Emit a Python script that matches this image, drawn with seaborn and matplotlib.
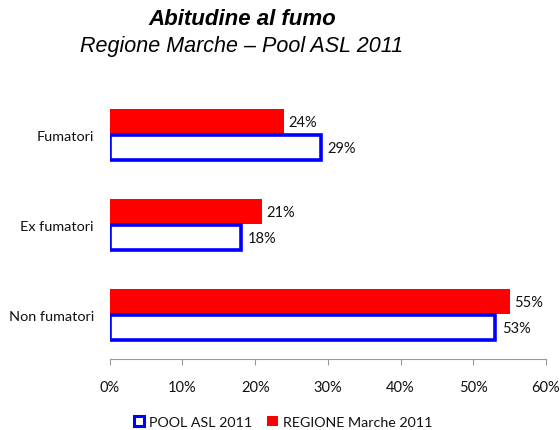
import pandas as pd
import numpy as np
import matplotlib.pyplot as plt
import seaborn as sns
from matplotlib.patches import Patch
from matplotlib.ticker import FuncFormatter

# data
categorie = ['Fumatori', 'Ex fumatori', 'Non fumatori']
regione = [24, 21, 55]
pool = [29, 18, 53]
serie = ['REGIONE Marche 2011', 'POOL ASL 2011']

df = pd.DataFrame({
    'categoria': categorie * 2,
    'valore': regione + pool,
    'serie': [serie[0]] * 3 + [serie[1]] * 3,
})

sns.set_style('white')
plt.rcParams['font.family'] = ['Lato', 'DejaVu Sans']
plt.rcParams['text.color'] = '#111111'

fig = plt.figure(figsize=(5.6, 4.31), dpi=100)
ax = fig.add_axes([0.196, 0.165, 0.779, 0.624])

sns.barplot(data=df, y='categoria', x='valore', hue='serie', hue_order=serie,
            order=categorie, palette=['#ff0000', '#0000ff'], saturation=1,
            orient='h', width=0.58, gap=0.04, ax=ax, legend=False)

# pool bars: white with blue outline
for cont, name in zip(ax.containers, serie):
    if name == serie[1]:
        for p in cont:
            p.set_facecolor('white')
            p.set_edgecolor('#0000ff')
            p.set_linewidth(2.6)
        pad = 5
    else:
        for p in cont:
            p.set_edgecolor('none')
        pad = 3
    ax.bar_label(cont, fmt='%d%%', padding=pad, fontsize=10.5, color='#111111')

ax.set_xlim(0, 60)
ax.set_ylim(2.49, -0.5)
ax.set_xticks(np.arange(0, 61, 10))
ax.xaxis.set_major_formatter(FuncFormatter(lambda v, _: f'{int(v)}%'))
ax.set_xlabel('')
ax.set_ylabel('')
for s in ['top', 'right', 'left']:
    ax.spines[s].set_visible(False)
ax.spines['bottom'].set_color('#999999')
ax.tick_params(axis='x', bottom=True, length=4.5, color='#999999', pad=11,
               labelsize=10.5, labelcolor='#111111')
ax.tick_params(axis='y', left=False, pad=8, labelsize=10.4, labelcolor='#111111')

fig.text(0.432, 0.954, 'Abitudine al fumo', ha='center', va='center', color='black',
         fontsize=16, fontweight='bold', fontstyle='italic', family='Liberation Sans')
fig.text(0.431, 0.893, 'Regione Marche \u2013 Pool ASL 2011', ha='center', va='center',
         color='black', fontsize=15.5, fontstyle='italic', family='Liberation Sans')

handles = [Patch(facecolor='white', edgecolor='#0000ff', linewidth=2.2, label=serie[1]),
           Patch(facecolor='#ff0000', edgecolor='none', label=serie[0])]
fig.legend(handles=handles, loc='center', bbox_to_anchor=(0.505, 0.019), ncol=2,
           frameon=False, fontsize=10.3, handlelength=0.75, handleheight=0.75,
           handletextpad=0.35, columnspacing=1.0)

fig.savefig('out.png', dpi=100)
